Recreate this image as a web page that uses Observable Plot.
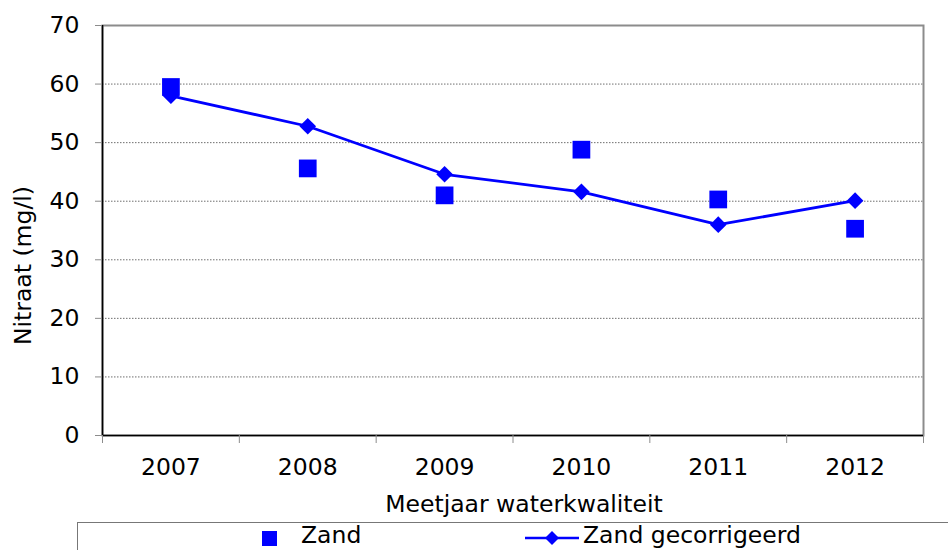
<!DOCTYPE html>
<html><head><meta charset="utf-8">
<script src="https://cdn.jsdelivr.net/npm/d3@7"></script>
<script src="https://cdn.jsdelivr.net/npm/@observablehq/plot@0.6"></script>
<style>
body{margin:0;background:#fff;font-family:"DejaVu Sans",Verdana,sans-serif;}
#wrap{position:relative;width:948px;height:550px;overflow:hidden;background:#fff;}
#wrap svg{display:block;}
.legbox{position:absolute;top:522px;left:77px;width:900px;height:40px;border-top:1px solid #777;border-left:1px solid #777;}
.leg{position:absolute;font-size:23.5px;line-height:23px;color:#000;white-space:nowrap;}
</style></head><body><div id="wrap"></div>
<script>
const years = [2007, 2008, 2009, 2010, 2011, 2012];
const zand = [59.5, 45.6, 41.0, 48.8, 40.3, 35.3];
const zandGecorrigeerd = [58.0, 52.8, 44.6, 41.6, 36.0, 40.1];
const yTicks = [0, 10, 20, 30, 40, 50, 60, 70];
const seriesNames = ["Zand", "Zand gecorrigeerd"];
const xLabel = "Meetjaar waterkwaliteit";
const yLabel = "Nitraat (mg/l)";

const rowsZ = years.map((y, i) => ({year: y, value: zand[i]}));
const rowsC = years.map((y, i) => ({year: y, value: zandGecorrigeerd[i]}));
const bounds = years.map(y => y - 0.5).concat(years[years.length - 1] + 0.5);
const blue = "#0000ff";
const font = "'DejaVu Sans', Verdana, sans-serif";
const fs = 23.5;

const chart = Plot.plot({
  width: 948, height: 522,
  marginLeft: 102, marginRight: 25, marginTop: 25, marginBottom: 87,
  style: {fontFamily: font, fontSize: fs + "px", color: "#000", background: "#fff"},
  x: {domain: [bounds[0], bounds[bounds.length - 1]]},
  y: {domain: [yTicks[0], yTicks[yTicks.length - 1]]},
  marks: [
    Plot.gridY(yTicks.slice(1, -1), {stroke: "#6e6e6e", strokeOpacity: 1, strokeDasharray: "1.5,1.5"}),
    Plot.frame({stroke: "#8c8c8c", strokeWidth: 2}),
    Plot.ruleX([bounds[0]], {stroke: "#000", strokeWidth: 1.6}),
    Plot.ruleY([yTicks[0]], {stroke: "#000", strokeWidth: 1.6}),
    Plot.axisY({ticks: yTicks, tickSize: 7, tickPadding: 16, stroke: "#8c8c8c", fill: "#000", label: null, fontSize: fs}),
    Plot.axisX({ticks: years, tickSize: 0, tickPadding: 23, tickFormat: d => String(d), label: null, fill: "#000", fontSize: fs}),
    Plot.axisX({ticks: bounds, tickSize: 8, tickFormat: () => "", label: null, stroke: "#8c8c8c"}),
    Plot.line(rowsC, {x: "year", y: "value", stroke: blue, strokeWidth: 2.8}),
    Plot.dot(rowsC, {x: "year", y: "value", symbol: "diamond2", r: 7.5, fill: blue, stroke: "none"}),
    Plot.dot(rowsZ, {x: "year", y: "value", symbol: "square", r: 10, fill: blue, stroke: "none"}),
    Plot.text([yLabel], {frameAnchor: "left", rotate: -90, dx: -72, dy: 35, lineAnchor: "bottom", textAnchor: "middle", fill: "#000", fontSize: fs}),
    Plot.text([xLabel], {frameAnchor: "bottom", dx: 11, dy: 60, lineAnchor: "top", textAnchor: "middle", fill: "#000", fontSize: fs})
  ]
});

const wrap = document.getElementById("wrap");
wrap.appendChild(chart);

// legend
const box = document.createElement("div");
box.className = "legbox";
wrap.appendChild(box);

const sq = document.createElement("div");
sq.style.cssText = `position:absolute;left:262px;top:531px;width:15px;height:15px;background:${blue};`;
wrap.appendChild(sq);

const t1 = document.createElement("div");
t1.className = "leg";
t1.style.left = "301px"; t1.style.top = "524px";
t1.textContent = seriesNames[0];
wrap.appendChild(t1);

const ns = "http://www.w3.org/2000/svg";
const sw = document.createElementNS(ns, "svg");
sw.setAttribute("width", "56"); sw.setAttribute("height", "20");
sw.style.cssText = "position:absolute;left:524px;top:528px;";
const ln = document.createElementNS(ns, "line");
ln.setAttribute("x1", "1"); ln.setAttribute("x2", "55"); ln.setAttribute("y1", "10"); ln.setAttribute("y2", "10");
ln.setAttribute("stroke", blue); ln.setAttribute("stroke-width", "2.5");
sw.appendChild(ln);
const dm = document.createElementNS(ns, "path");
dm.setAttribute("d", "M28,3L35,10L28,17L21,10Z");
dm.setAttribute("fill", blue);
sw.appendChild(dm);
wrap.appendChild(sw);

const t2 = document.createElement("div");
t2.className = "leg";
t2.style.left = "583px"; t2.style.top = "524px";
t2.textContent = seriesNames[1];
wrap.appendChild(t2);
</script>
</body></html>
